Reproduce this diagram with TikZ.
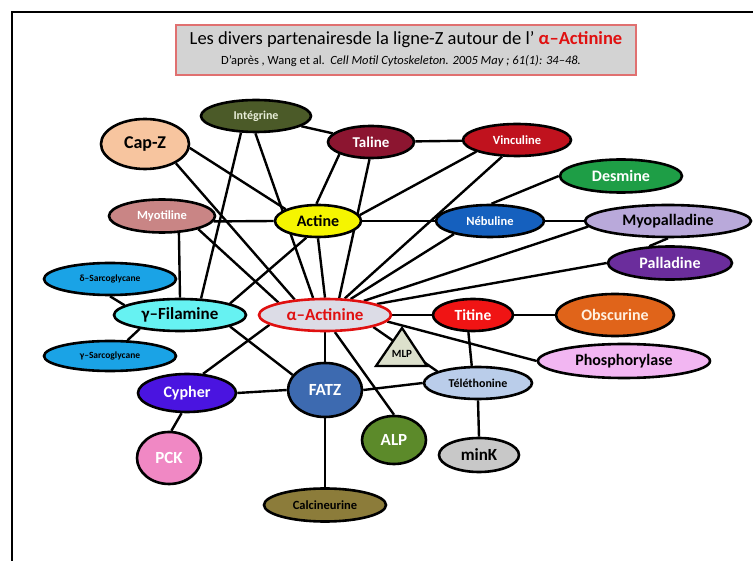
\documentclass[tikz,border=0pt]{standalone}
\usepackage{fontspec}
\setmainfont{Carlito}
\usetikzlibrary{shapes.geometric}
\pgfdeclarelayer{background}
\pgfdeclarelayer{bottom}
\pgfsetlayers{bottom,background,main}
\definecolor{capzc}{HTML}{F7C59F}
\definecolor{integc}{HTML}{4B5A28}
\definecolor{talinec}{HTML}{8C1530}
\definecolor{vincc}{HTML}{C0121E}
\definecolor{desminec}{HTML}{1E9E46}
\definecolor{nebc}{HTML}{1560BE}
\definecolor{myopc}{HTML}{B9A9DA}
\definecolor{pallc}{HTML}{6B2D9C}
\definecolor{actinec}{HTML}{F5F500}
\definecolor{myotc}{HTML}{C98585}
\definecolor{sarcoc}{HTML}{1AA3E6}
\definecolor{filc}{HTML}{66F2F2}
\definecolor{actininec}{HTML}{DCDCE6}
\definecolor{actred}{HTML}{E01010}
\definecolor{cypherc}{HTML}{4A14E0}
\definecolor{pckc}{HTML}{F088C4}
\definecolor{fatzc}{HTML}{3D6AB0}
\definecolor{alpc}{HTML}{5C8A2A}
\definecolor{mlpc}{HTML}{DCE0CC}
\definecolor{titinec}{HTML}{F01414}
\definecolor{obscc}{HTML}{E0641A}
\definecolor{phosc}{HTML}{F2B6F2}
\definecolor{telec}{HTML}{BACDEA}
\definecolor{minkc}{HTML}{C8C8C8}
\definecolor{calcc}{HTML}{8C7C3A}
\definecolor{titlegray}{HTML}{D3D3D3}
\definecolor{titlered}{HTML}{E07070}
\begin{document}
\begin{tikzpicture}[x=1pt,y=-1pt,
  ell/.style={ellipse, draw=black, line width=2.6pt, inner sep=0pt},
  fs/.style={font=\bfseries\fontsize{#1}{#1}\selectfont},
  link/.style={draw=black, line width=2.4pt},
]
\useasboundingbox (0,0) rectangle (753,561);
\begin{pgfonlayer}{bottom}
\fill[white] (0,0) rectangle (753,561);
\end{pgfonlayer}
\draw[line width=2.5pt] (12,561) -- (12,12) -- (753,12);

% title
\node[draw=titlered, fill=titlegray, line width=1.5pt, minimum width=460pt, minimum height=50pt, inner sep=0pt] (titlebox) at (406,50) {};
\node (title) at (406,40) {\fontsize{18.5}{18.5}\selectfont Les divers partenairesde la ligne-Z autour de l’ \textcolor{actred}{\bfseries α–Actinine}};
\node (sub) at (401,61) {\fontsize{12.5}{12.5}\selectfont D’après , Wang et al.\ \ \textit{Cell Motil Cytoskeleton. 2005 May ; 61(1): 34–48.}};

% nodes
\node[ell, fill=capzc, minimum width=88pt, minimum height=50pt, fs=18] (capz) at (145,144) {Cap-Z};
\node[ell, fill=integc, minimum width=110pt, minimum height=32pt, fs=12, text={rgb,255:red,232;green,237;blue,216}] (integ) at (256,116) {Intégrine};
\node[ell, fill=talinec, minimum width=86pt, minimum height=32pt, fs=15, text=white] (taline) at (371,142) {Taline};
\node[ell, fill=vincc, minimum width=108pt, minimum height=32pt, fs=12.5, text=white] (vinc) at (517,140) {Vinculine};
\node[ell, fill=desminec, minimum width=122pt, minimum height=33pt, fs=16, text=white] (desmine) at (621,176) {Desmine};
\node[ell, fill=nebc, minimum width=108pt, minimum height=32pt, fs=12.5, text=white] (nebuline) at (490,221) {Nébuline};
\node[ell, fill=myopc, minimum width=166pt, minimum height=32pt, fs=16] (myopall) at (668,221) {Myopalladine};
\node[ell, fill=pallc, minimum width=124pt, minimum height=33pt, fs=16, text=white] (palladine) at (670,263) {Palladine};
\node[ell, fill=actinec, minimum width=86pt, minimum height=32pt, fs=16] (actine) at (318,221) {Actine};
\node[ell, fill=myotc, minimum width=106pt, minimum height=33pt, fs=12.5, text=white] (myotiline) at (162,216) {Myotiline};
\node[ell, fill=sarcoc, minimum width=132pt, minimum height=32pt, fs=9.5] (delta) at (110,279) {δ–Sarcoglycane};
\node[ell, fill=filc, minimum width=132pt, minimum height=32pt, fs=17] (filamine) at (180,315) {γ–Filamine};
\node[ell, fill=actininec, draw=actred, minimum width=132pt, minimum height=32pt, fs=17, text=actred] (actinine) at (325,315) {α–Actinine};
\node[ell, fill=sarcoc, minimum width=132pt, minimum height=30pt, fs=9.5] (gamma) at (110,356) {γ–Sarcoglycane};
\node[ell, fill=cypherc, minimum width=98pt, minimum height=38pt, fs=16, text=white] (cypher) at (187,393) {Cypher};
\node[ell, fill=pckc, minimum width=64pt, minimum height=52pt, fs=17, text=white] (pck) at (169,458) {PCK};
\node[ell, fill=fatzc, minimum width=74pt, minimum height=54pt, fs=17, text=white] (fatz) at (325,390) {FATZ};
\node[ell, fill=alpc, minimum width=64pt, minimum height=48pt, fs=17, text=white] (alp) at (394,440) {ALP};
\node[ell, fill=titinec, minimum width=80pt, minimum height=32pt, fs=15.5, text=white] (titine) at (473,315) {Titine};
\node[ell, fill=obscc, minimum width=118pt, minimum height=42pt, fs=16, text={rgb,255:red,255;green,240;blue,224}] (obscurine) at (615,315) {Obscurine};
\node[ell, fill=phosc, minimum width=172pt, minimum height=34pt, fs=16] (phosph) at (624,361) {Phosphorylase};
\node[ell, fill=telec, minimum width=108pt, minimum height=32pt, fs=12] (telethonine) at (478,383) {Téléthonine};
\node[ell, fill=minkc, minimum width=80pt, minimum height=34pt, fs=17] (mink) at (479,455) {minK};
\node[ell, fill=calcc, minimum width=122pt, minimum height=33pt, fs=12.5] (calcineurine) at (325,505) {Calcineurine};

% MLP triangle
\filldraw[fill=mlpc, draw=black, line width=2.3pt, line join=miter] (402,328) -- (427,366) -- (376,366) -- cycle;
\node[fs=11] (mlp) at (402,354) {MLP};

% connectors
\begin{pgfonlayer}{background}
\draw[link] (capz.-5) -- (actine.160);
\draw[link] (capz.-32) -- (actinine.153);
\draw[link] (integ) -- (taline);
\draw[link] (integ.-92) -- (actinine.125);
\draw[link] (integ.-132) -- (filamine.38);
\draw[link] (taline) -- (vinc);
\draw[link] (taline.-159) -- (actine.95);
\draw[link] (taline.-95) -- (actinine.50);
\draw[link] (vinc.-164) -- (actine.8);
\draw[link] (vinc.-132) -- (actinine.40);
\draw[link] (desmine.west) -- (nebuline.85);
\draw[link] (myotiline.-6) -- (actine.west);
\draw[link] (actine.east) -- (nebuline.west);
\draw[link] (nebuline.east) -- (myopall.west);
\draw[link] (myopall.south) -- (palladine.141);
\draw[link] (nebuline.-160) -- (actinine.32);
\draw[link] (myopall.-176) -- (actinine.20);
\draw[link] (palladine.west) -- (actinine.12);
\draw[link] (myotiline.-45) -- (filamine.north);
\draw[link] (myotiline.-20) -- (actinine.165);
\draw[link] (actine.-125) -- (filamine.13);
\draw[link] (actine.south) -- (actinine.north);
\draw[link] (delta.south) -- (filamine.170);
\draw[link] (gamma.42) -- (filamine.-161);
\draw[link] (filamine.-13) -- (fatz.155);
\draw[link] (cypher.50) -- (actinine.-170);
\draw[link] (cypher.east) -- (fatz.west);
\draw[link] (cypher.-105) -- (pck.85);
\draw[link] (actinine.south) -- (fatz.north);
\draw[link] (actinine.-60) -- (alp.north);
\draw[link] (actinine.-14) -- (telethonine.164);
\draw[link] (actinine.east) -- (titine.west);
\draw[link] (actinine.-6) -- (phosph.west);
\draw[link] (titine.east) -- (obscurine.west);
\draw[link] (titine.-105) -- (telethonine.110);
\draw[link] (fatz.east) -- (telethonine.west);
\draw[link] (telethonine.south) -- (mink.north);
\draw[link] (fatz.south) -- (calcineurine.north);
\end{pgfonlayer}
\end{tikzpicture}
\end{document}
